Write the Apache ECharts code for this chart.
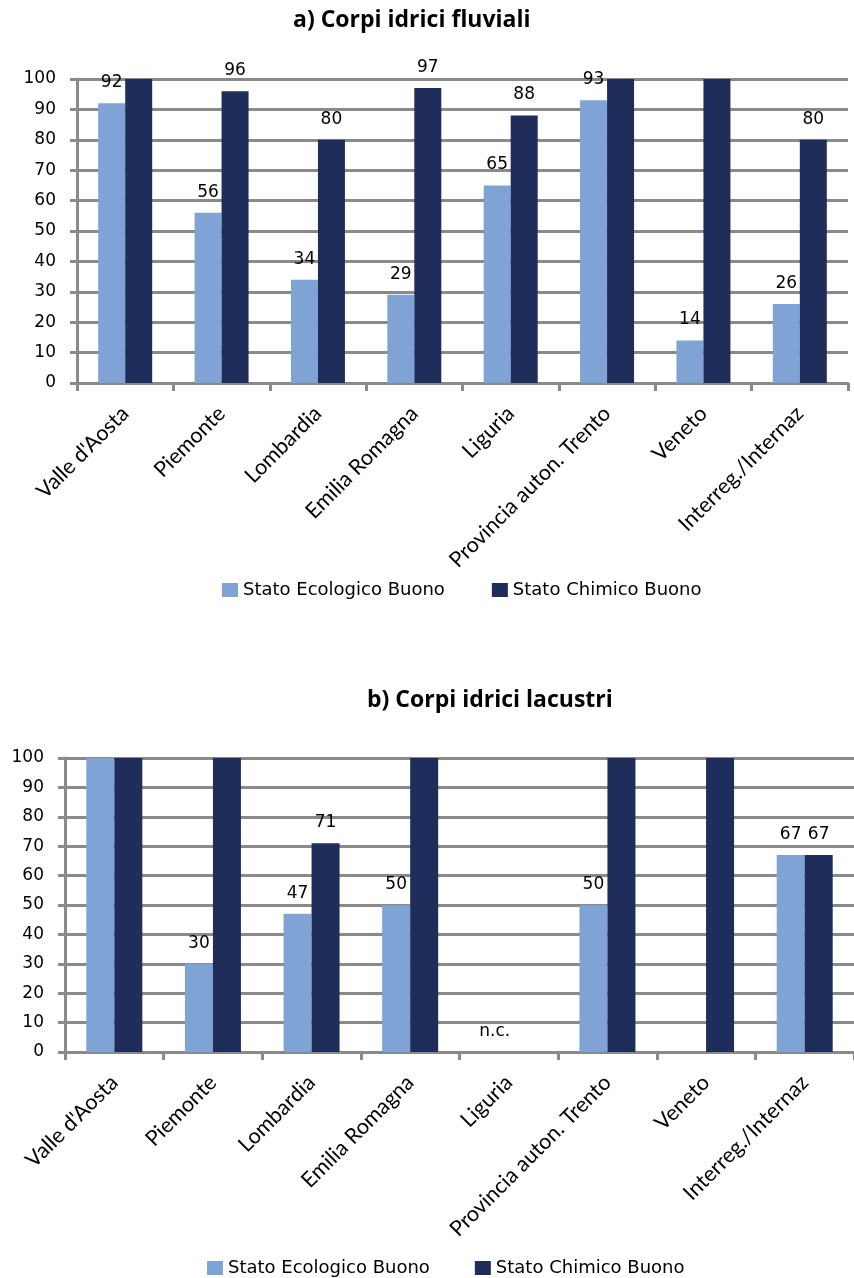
<!DOCTYPE html>
<html>
<head>
<meta charset="utf-8">
<script src="https://cdn.jsdelivr.net/npm/echarts@6/dist/echarts.min.js"></script>
<style>
  html, body { margin: 0; padding: 0; background: #ffffff; }
  #chart { width: 854px; height: 1278px; }
</style>
</head>
<body>
<div id="chart"></div>
<script>
const categories = ["Valle d'Aosta", "Piemonte", "Lombardia", "Emilia Romagna", "Liguria", "Provincia auton. Trento", "Veneto", "Interreg./Internaz"];
const seriesNames = ["Stato Ecologico Buono", "Stato Chimico Buono"];
const titles = ["a) Corpi idrici fluviali", "b) Corpi idrici lacustri"];
const yTicks = [0, 10, 20, 30, 40, 50, 60, 70, 80, 90, 100];

const riverEcological = [92, 56, 34, 29, 65, 93, 14, 26];
const riverChemical = [100, 96, 80, 97, 88, 100, 100, 80];

const lakeEcological = [100, 30, 47, 50, null, 50, null, 67];
const lakeChemical = [100, 100, 71, 100, null, 100, 100, 67];
const lakeNotes = ["", "", "", "", "n.c.", "", "", ""];

const LIGHT = '#7FA3D4';
const DARK = '#1F2D5B';
const GRID_GRAY = '#8a8a8a';

function buildData(values, notes) {
  return values.map((v, i) => {
    if (v === null && notes && notes[i]) {
      return { value: 0, label: { show: true, formatter: notes[i] } };
    }
    return v;
  });
}

const labelCfg = {
  show: true,
  position: 'top',
  distance: 12,
  fontFamily: 'DejaVu Sans',
  fontSize: 17,
  color: '#000',
  formatter: p => (p.value === 100 || p.value === null || p.value === undefined) ? '' : String(p.value)
};

function xAxisCfg(gridIndex) {
  return {
    type: 'category',
    gridIndex: gridIndex,
    data: categories,
    axisLine: { show: true, lineStyle: { color: GRID_GRAY, width: 3 } },
    axisTick: { show: true, length: 8, lineStyle: { color: GRID_GRAY, width: 3 } },
    axisLabel: {
      interval: 0, rotate: 45, margin: 27,
      fontFamily: 'Lato', fontSize: 21.5, color: '#000'
    }
  };
}

function yAxisCfg(gridIndex) {
  return {
    type: 'value',
    gridIndex: gridIndex,
    min: 0, max: 100, interval: 10,
    axisLine: { show: true, lineStyle: { color: GRID_GRAY, width: 3 } },
    axisTick: { show: true, length: 7, lineStyle: { color: GRID_GRAY, width: 3 } },
    axisLabel: {
      margin: 21, fontFamily: 'DejaVu Sans', fontSize: 17, color: '#000',
      formatter: v => yTicks.indexOf(v) >= 0 ? String(v) : ''
    },
    splitLine: { show: true, lineStyle: { color: GRID_GRAY, width: 3 } }
  };
}

const titleStyle = { fontFamily: 'Open Sans', fontWeight: 'bold', fontSize: 23, color: '#000' };
const legendText = { fontFamily: 'DejaVu Sans', fontSize: 18, color: '#000' };

const chart = echarts.init(document.getElementById('chart'), null, { renderer: 'canvas' });
chart.setOption({
  animation: false,
  backgroundColor: '#ffffff',
  title: [
    { text: titles[0], left: 293, top: 9, padding: 0, textStyle: titleStyle },
    { text: titles[1], left: 367, top: 689, padding: 0, textStyle: titleStyle }
  ],
  legend: [
    { left: 222, top: 581, padding: 0, icon: 'rect', itemWidth: 16, itemHeight: 14, itemGap: 47, data: seriesNames,
      textStyle: legendText, selectedMode: false },
    { left: 207, top: 1259, padding: 0, icon: 'rect', itemWidth: 16, itemHeight: 14, itemGap: 45, data: seriesNames,
      textStyle: legendText, selectedMode: false }
  ],
  grid: [
    { left: 77, width: 771, top: 79, height: 304, containLabel: false },
    { left: 65, width: 795, top: 758, height: 294, containLabel: false }
  ],
  xAxis: [xAxisCfg(0), xAxisCfg(1)],
  yAxis: [yAxisCfg(0), yAxisCfg(1)],
  series: [
    { name: seriesNames[0], type: 'bar', xAxisIndex: 0, yAxisIndex: 0, data: riverEcological,
      barWidth: 27, barGap: '0%', itemStyle: { color: LIGHT }, label: labelCfg },
    { name: seriesNames[1], type: 'bar', xAxisIndex: 0, yAxisIndex: 0, data: riverChemical,
      barWidth: 27, barGap: '0%', itemStyle: { color: DARK }, label: labelCfg },
    { name: seriesNames[0], type: 'bar', xAxisIndex: 1, yAxisIndex: 1, data: buildData(lakeEcological, lakeNotes),
      barWidth: 28, barGap: '0%', itemStyle: { color: LIGHT }, label: labelCfg },
    { name: seriesNames[1], type: 'bar', xAxisIndex: 1, yAxisIndex: 1, data: lakeChemical,
      barWidth: 28, barGap: '0%', itemStyle: { color: DARK }, label: labelCfg }
  ]
});
</script>
</body>
</html>
